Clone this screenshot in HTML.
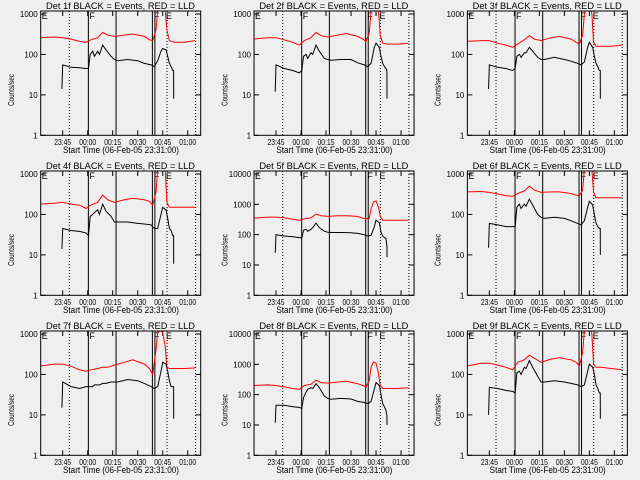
<!DOCTYPE html>
<html><head><meta charset="utf-8"><style>
html,body{margin:0;padding:0;background:#efefef;}
svg{display:block;font-family:"Liberation Sans",sans-serif;}
</style></head><body>
<svg id="chart" width="640" height="480" viewBox="0 0 640 480"></svg>
<script>
// shared time axes (minutes relative to 00:00)
const blackTimes=[-15.5,-15,-10,-5,-1,0.5,1.5,3,4,6,7,9,11,14,16,18,24,30,34,38,40,42,44,45,47,48,49,50,51,51.5,51.6];
const redTimes=[-29,-20,-15,-10,-5,-1,2,6,9,12,16,22,27,34,37,39,41,42,43.5,45,46.5,47.5,49,52,58,64.4];
const xTickLabels=["23:45","00:00","00:15","00:30","00:45","01:00"];
const xTickTimes=[-15,0,15,30,45,60];
const detLabels=["1f","2f","3f","4f","5f","6f","7f","8f","9f"];
const decades=[3,3,3,3,4,3,3,4,3];
const black1=[14,55,48,47,45,45,100,120,90,120,100,170,130,90,75,70,75,70,60,55,50,70,120,140,130,90,60,50,40,40,8];
const red1=[260,270,260,240,210,200,230,260,350,300,280,300,320,280,230,220,400,1200,3000,3000,1200,400,220,200,200,220];
const black2=[12,55,45,40,35,40,90,100,80,110,100,170,120,80,75,72,75,75,62,55,50,60,150,190,150,90,60,50,45,40,8];
const red2=[240,260,260,230,200,170,220,260,350,290,270,300,330,280,240,210,350,1200,3000,3000,1200,300,190,180,180,190];
const black3=[14,55,48,45,40,45,90,100,85,110,110,150,120,85,75,75,85,75,68,60,55,65,150,200,150,90,60,50,40,40,8];
const red3=[210,220,220,190,170,150,180,230,290,240,220,260,280,240,200,180,300,1000,3000,3000,1000,200,160,160,160,170];
const black4=[14,45,40,38,35,30,90,100,110,130,100,180,120,90,65,65,65,60,58,55,45,45,100,150,130,80,45,40,30,30,6];
const red4=[180,190,200,180,170,140,170,200,300,230,200,230,250,230,210,170,350,1300,3000,3000,1300,200,150,150,150,150];
const black5=[25,100,90,85,80,78,140,150,130,150,170,240,170,130,120,118,118,115,110,100,90,95,180,300,250,120,90,80,75,40,18];
const red5=[350,380,380,360,320,300,330,360,480,420,400,420,420,400,350,330,350,700,1200,1300,800,400,300,300,300,300];
const black6=[15,60,55,50,50,50,150,180,140,180,160,240,170,100,85,80,85,80,70,60,55,70,150,210,170,100,60,50,45,45,10];
const red6=[360,370,350,320,290,280,330,380,500,400,350,360,360,330,300,290,400,1300,3000,3000,1300,350,260,260,260,260];
const black7=[15,65,50,45,50,50,50,50,55,55,55,60,60,65,65,65,75,70,60,50,45,50,120,200,180,120,70,50,50,50,8];
const red7=[160,180,180,160,130,120,130,140,150,150,170,200,230,180,140,100,400,1100,1200,1100,500,150,140,140,140,145];
const black8=[12,45,45,40,38,35,80,120,150,170,160,230,170,90,75,70,75,72,60,55,50,60,150,250,200,100,50,40,30,20,10];
const red8=[200,210,200,180,160,150,200,220,300,250,240,260,280,230,200,180,300,800,1200,1100,500,200,160,160,160,170];
const black9=[10,48,45,40,38,35,110,120,100,150,140,220,150,90,65,65,70,65,60,55,50,55,120,180,150,100,55,45,35,35,8];
const red9=[160,190,190,170,150,130,200,230,300,250,200,240,260,230,200,160,350,1200,3000,3000,1000,180,150,150,140,130];
const blackSeries=[black1,black2,black3,black4,black5,black6,black7,black8,black9];
const redSeries=[red1,red2,red3,red4,red5,red6,red7,red8,red9];
const solidLineTimes=[0.4,17,38.8,40.3];
const dottedLineTimes=[-11,47.6,64.7];

const NS="http://www.w3.org/2000/svg";
const svg=document.getElementById('chart');
function mk(tag,attrs,parent){const e=document.createElementNS(NS,tag);for(const k in attrs)e.setAttribute(k,attrs[k]);parent.appendChild(e);return e;}
const L=40.7,R=200.7,T=11,B=135.3,Y1=14;
function xs(t){return 87.7+t*1.667;}

for(let p=0;p<9;p++){
  const ox=(p%3)*213.33, oy=Math.floor(p/3)*160;
  const nd=decades[p];
  const ys=v=>B-Math.log10(v)*(B-Y1)/nd;
  const g=mk('g',{transform:`translate(${ox},${oy})`},svg);
  
  
  const clipId='clip'+p;
  const cp=mk('clipPath',{id:clipId},g);mk('rect',{x:L,y:T,width:R-L,height:B-T},cp);
  const ti=mk('text',{x:46,y:9,'font-size':9.5,fill:'#000',textLength:149,lengthAdjust:'spacingAndGlyphs'},g);
  ti.textContent=`Det ${detLabels[p]} BLACK = Events, RED = LLD`;
  
  
  const yl=mk('text',{x:0,y:0,transform:'translate(14,90) rotate(-90)','text-anchor':'middle','font-size':8,fill:'#000',textLength:32,lengthAdjust:'spacingAndGlyphs'},g);
  yl.textContent='Counts/sec';
  
  
  const xl=mk('text',{x:63,y:153,'font-size':9,fill:'#000',textLength:116,lengthAdjust:'spacingAndGlyphs'},g);
  xl.textContent='Start Time (06-Feb-05 23:31:00)';
  
  
  for(let d=0;d<=nd;d++){
    const y=ys(Math.pow(10,d));
    mk('line',{x1:L,x2:L+5,y1:y,y2:y,stroke:'#000'},g);
    mk('line',{x1:R-5,x2:R,y1:y,y2:y,stroke:'#000'},g);
    const tl=mk('text',{x:L-3,y:y+3,'text-anchor':'end','font-size':8,fill:'#000'},g);
    tl.textContent=String(Math.pow(10,d));
    
    
  }
  xTickTimes.forEach((t,i)=>{
    const x=xs(t);
    mk('line',{x1:x,x2:x,y1:B,y2:B-5,stroke:'#000'},g);
    mk('line',{x1:x,x2:x,y1:T,y2:T+5,stroke:'#000'},g);
    const tl=mk('text',{x:x-8.5,y:145,'font-size':8,fill:'#000',textLength:17,lengthAdjust:'spacingAndGlyphs'},g);
    tl.textContent=xTickLabels[i];
    
    
  });
  solidLineTimes.forEach(t=>{const l=mk('line',{x1:xs(t),x2:xs(t),y1:T,y2:B,stroke:'#000','stroke-width':1},g);
    
    });
  dottedLineTimes.forEach(t=>{const l=mk('line',{x1:xs(t),x2:xs(t),y1:T,y2:B,stroke:'#000','stroke-dasharray':'1,2'},g);
    
    });
  [[L+1,'E'],[xs(0.4)+1,'F'],[xs(40.3)-1,'F'],[xs(47.6)-1,'E']].forEach(([x,s])=>{
    const tx=mk('text',{x:x,y:19,'font-size':9,fill:'#000'},g);tx.textContent=s;
    
    
  });
  const rp=redTimes.map((t,i)=>xs(t).toFixed(1)+','+ys(redSeries[p][i]).toFixed(1)).join(' ');
  const rl=mk('polyline',{points:rp,fill:'none',stroke:'#ff0000','stroke-width':1,'clip-path':`url(#${clipId})`},g);
  
  
  const bp=blackTimes.map((t,i)=>xs(t).toFixed(1)+','+ys(blackSeries[p][i]).toFixed(1)).join(' ');
  const bl=mk('polyline',{points:bp,fill:'none',stroke:'#000','stroke-width':1,'clip-path':`url(#${clipId})`},g);
  
  
  const fr=mk('rect',{x:L,y:T,width:R-L,height:B-T,fill:'none',stroke:'#000'},g);
  
  
}
</script>
</body></html>
